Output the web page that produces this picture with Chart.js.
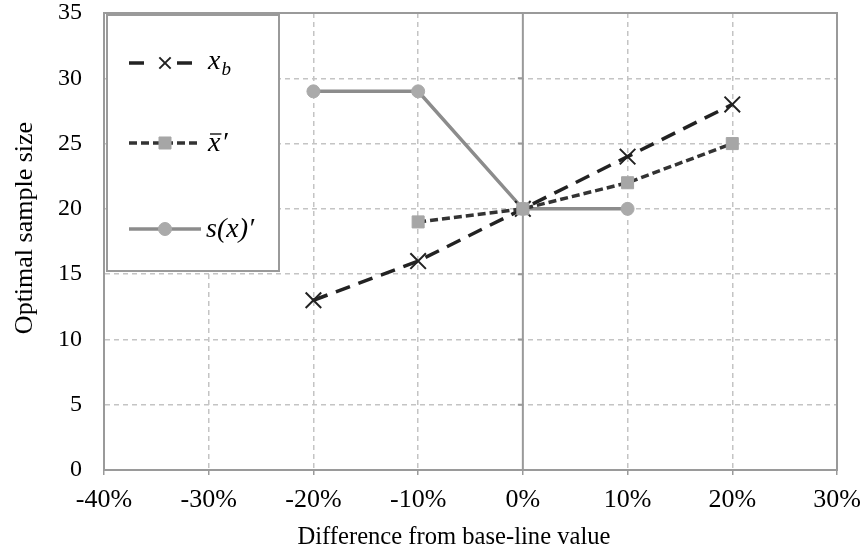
<!DOCTYPE html>
<html>
<head>
<meta charset="utf-8">
<script src="https://cdn.jsdelivr.net/npm/chart.js@4.4.1/dist/chart.umd.min.js"></script>
<style>
  html, body { margin: 0; padding: 0; background: #fff; }
</style>
</head>
<body>
<canvas id="tailleOptimale" width="865" height="556"></canvas>
<script>
// écarts par rapport à la valeur de base (%) et taille d'échantillon optimale
const ecartsXb = [-20, -10, 0, 10, 20];
const tailleXb = [13, 16, 20, 24, 28];

const ecartsXbar = [-10, 0, 10, 20];
const tailleXbar = [19, 20, 22, 25];

const ecartsS = [-20, -10, 0, 10];
const tailleS = [29, 29, 20, 20];

const ticksX = [-40, -30, -20, -10, 0, 10, 20, 30];
const ticksY = [0, 5, 10, 15, 20, 25, 30, 35];

const titreX = 'Difference from base-line value';
const titreY = 'Optimal sample size';

const police = "'Liberation Serif', 'Times New Roman', serif";
const gris = '#9a9a9a';

function points(xs, ys) {
    return xs.map((x, i) => ({ x: x, y: ys[i] }));
}

// pas de marge automatique pour les étiquettes aux extrémités
function sansMarge(s) {
    s.paddingLeft = 0;
    s.paddingRight = 0;
    s.paddingTop = 0;
    s.paddingBottom = 0;
}

// cadre, axe vertical au 0%, titres des axes et légende dans la zone du graphique
const cadre = {
    id: 'cadre',
    beforeDatasetsDraw(chart) {
        const { ctx, chartArea: a, scales } = chart;
        ctx.save();
        ctx.strokeStyle = gris;
        ctx.lineWidth = 2;
        ctx.strokeRect(a.left, a.top, a.right - a.left, a.bottom - a.top);
        const x0 = scales.x.getPixelForValue(0);
        ctx.beginPath();
        ctx.moveTo(x0, a.top);
        ctx.lineTo(x0, a.bottom);
        for (const v of ticksY) {
            const y = scales.y.getPixelForValue(v);
            ctx.moveTo(x0 - 5, y);
            ctx.lineTo(x0, y);
        }
        ctx.stroke();

        // titres des axes
        ctx.fillStyle = '#000';
        ctx.textAlign = 'center';
        ctx.textBaseline = 'middle';
        ctx.font = '24.6px ' + police;
        ctx.fillText(titreX, 454, 538);
        ctx.translate(25, 228);
        ctx.rotate(-Math.PI / 2);
        ctx.font = '26px ' + police;
        ctx.fillText(titreY, 0, 0);
        ctx.restore();
    },
    afterDatasetsDraw(chart) {
        const { ctx, chartArea: a } = chart;
        const H = Chart.helpers;
        ctx.save();
        const bx = a.left + 3, by = a.top + 2, bw = 172, bh = 256;
        ctx.fillStyle = '#fff';
        ctx.fillRect(bx, by, bw, bh);
        ctx.strokeStyle = gris;
        ctx.lineWidth = 2;
        ctx.strokeRect(bx, by, bw, bh);

        const lignesY = [a.top + 50, a.top + 130, a.top + 216];
        chart.data.datasets.forEach((ds, k) => {
            const y = lignesY[k];
            ctx.save();
            ctx.strokeStyle = ds.borderColor;
            ctx.lineWidth = ds.borderWidth;
            ctx.setLineDash(ds.borderDash || []);
            ctx.beginPath();
            ctx.moveTo(bx + 22, y);
            ctx.lineTo(bx + 94, y);
            ctx.stroke();
            ctx.restore();
            ctx.save();
            ctx.fillStyle = '#fff';
            if (ds.pointStyle === 'crossRot') ctx.fillRect(bx + 46, y - 4, 24, 8);
            ctx.fillStyle = ds.pointBackgroundColor;
            ctx.strokeStyle = ds.pointBorderColor;
            ctx.lineWidth = ds.pointBorderWidth;
            H.drawPoint(ctx, {
                pointStyle: ds.pointStyle,
                radius: ds.pointStyle === 'crossRot' ? 8 : ds.pointRadius,
                rotation: 0,
                borderWidth: ds.pointBorderWidth
            }, bx + 58, y);
            ctx.restore();
        });

        // étiquettes en italique, façon formule
        const tx = bx + 101;
        ctx.fillStyle = '#000';
        ctx.textBaseline = 'alphabetic';
        ctx.font = "italic 28px " + police;
        const wx = ctx.measureText('x').width;
        ctx.fillText('x', tx, lignesY[0] + 6);
        ctx.font = "italic 19px " + police;
        ctx.fillText('b', tx + wx + 1, lignesY[0] + 12);

        ctx.font = "italic 28px " + police;
        ctx.fillText('x', tx, lignesY[1] + 8);
        ctx.fillText('\u2032', tx + wx + 1, lignesY[1] + 8);
        ctx.strokeStyle = '#000';
        ctx.lineWidth = 1.3;
        ctx.beginPath();
        ctx.moveTo(tx + 2, lignesY[1] - 9);
        ctx.lineTo(tx + wx + 1, lignesY[1] - 9);
        ctx.stroke();

        ctx.fillText('s(x)\u2032', tx - 2, lignesY[2] + 8);
        ctx.restore();
    }
};

new Chart(document.getElementById('tailleOptimale'), {
    type: 'line',
    data: {
        datasets: [
            {
                label: 'x_b',
                data: points(ecartsXb, tailleXb),
                borderColor: '#222',
                borderWidth: 3.5,
                borderDash: [15, 9],
                pointStyle: 'crossRot',
                pointRadius: 11,
                pointBorderColor: '#222',
                pointBackgroundColor: '#222',
                pointBorderWidth: 2,
                order: 1,
            },
            {
                label: "x̄'",
                data: points(ecartsXbar, tailleXbar),
                borderColor: '#333',
                borderWidth: 3.5,
                borderDash: [8, 4],
                pointStyle: 'rect',
                pointRadius: 8.5,
                pointBorderColor: '#a6a6a6',
                pointBackgroundColor: '#a6a6a6',
                pointBorderWidth: 1,
                order: 0,
            },
            {
                label: "s(x)'",
                data: points(ecartsS, tailleS),
                borderColor: '#8c8c8c',
                borderWidth: 3.5,
                pointStyle: 'circle',
                pointRadius: 6.5,
                pointBorderColor: '#aaa',
                pointBackgroundColor: '#aaa',
                pointBorderWidth: 1,
                order: 2,
            },
        ]
    },
    options: {
        responsive: false,
        animation: false,
        devicePixelRatio: 1,
        layout: { padding: { top: 12, right: 28, left: 0, bottom: 0 } },
        scales: {
            x: {
                type: 'linear',
                min: -40,
                max: 30,
                afterBuildTicks: (s) => { s.ticks = ticksX.map(v => ({ value: v })); },
                afterFit: (s) => { s.height = 86; sansMarge(s); },
                ticks: {
                    color: '#000',
                    padding: 10,
                    font: { family: police, size: 26 },
                    callback: (v) => v + '%',
                },
                grid: {
                    color: (c) => [0, -40, 30].includes(c.tick && c.tick.value) ? 'rgba(0,0,0,0)' : '#c4c4c4',
                    lineWidth: 1.5,
                    tickLength: 5,
                    tickColor: gris,
                    tickBorderDash: [],
                },
                border: { display: true, color: gris, width: 2, dash: [5, 4] },
            },
            y: {
                min: 0,
                max: 35,
                afterBuildTicks: (s) => { s.ticks = ticksY.map(v => ({ value: v })); },
                afterFit: (s) => { s.width = 104; sansMarge(s); },
                ticks: {
                    color: '#000',
                    padding: 22,
                    font: { family: police, size: 24 },
                },
                grid: {
                    color: (c) => (c.tick && c.tick.value === 0) ? 'rgba(0,0,0,0)' : '#c4c4c4',
                    lineWidth: 1.5,
                    drawTicks: false,
                },
                border: { display: true, color: gris, width: 2, dash: [5, 4] },
            },
        },
        plugins: {
            legend: { display: false },
            tooltip: { enabled: false },
        },
    },
    plugins: [cadre],
});
</script>
</body>
</html>
